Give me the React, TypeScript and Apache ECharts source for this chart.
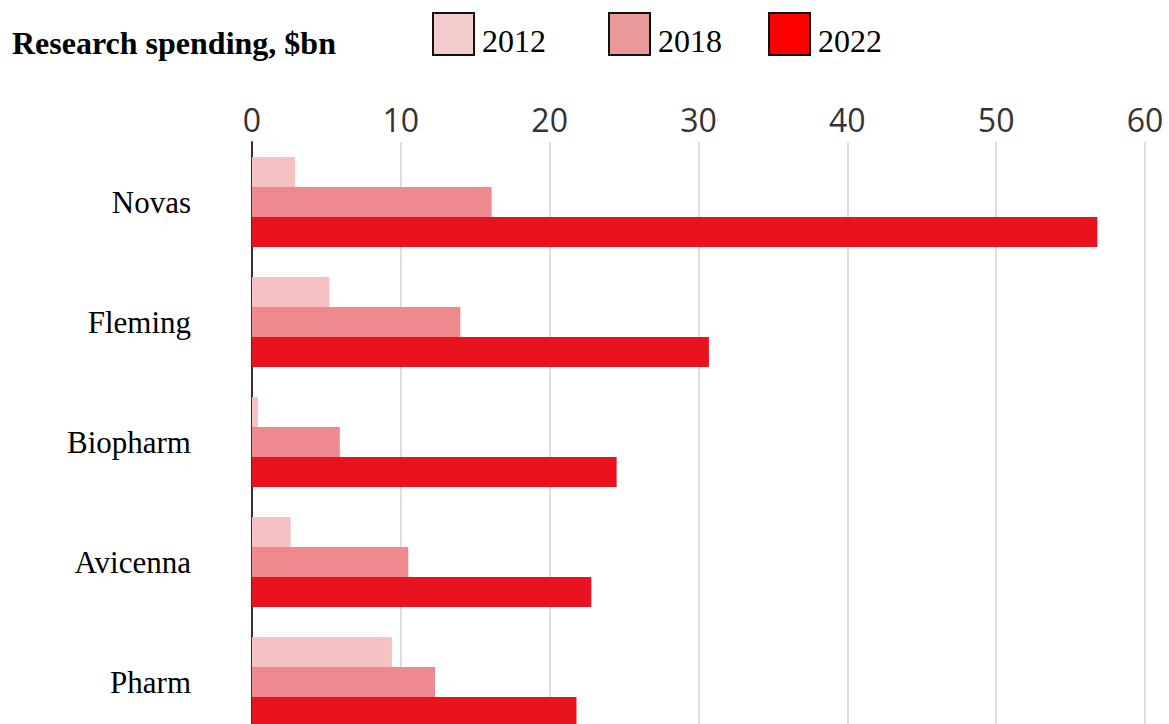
import React, { useEffect, useRef } from "react";
import * as echarts from "echarts";

const companies = ["Novas", "Fleming", "Biopharm", "Avicenna", "Pharm"];
const years = ["2012", "2018", "2022"];
const spend2012 = [2.9, 5.2, 0.4, 2.6, 9.4];
const spend2018 = [16.1, 14.0, 5.9, 10.5, 12.3];
const spend2022 = [56.8, 30.7, 24.5, 22.8, 21.8];
const xTicks = { min: 0, max: 60, interval: 10 };

const barColors = ["#f5c1c2", "#ee8a8d", "#e8131e"];
const legendColors = ["#f4cccc", "#ea9999", "#ff0000"];
const legendLeft = [432, 608, 768];

export default function App() {
  const ref = useRef<HTMLDivElement>(null);
  useEffect(() => {
    if (!ref.current) return;
    const chart = echarts.init(ref.current, undefined, { renderer: "svg" });
    const values = [spend2012, spend2018, spend2022];
    chart.setOption({
      animation: false,
      backgroundColor: "#ffffff",
      title: {
        text: "Research spending, $bn",
        left: 12,
        top: 27,
        padding: 0,
        textStyle: {
          fontFamily: "Liberation Serif",
          fontWeight: "bold",
          fontSize: 32,
          color: "#000",
        },
      },
      legend: years.map((y, i) => ({
        data: [
          {
            name: y,
            icon: "rect",
            itemStyle: { color: legendColors[i], borderColor: "#111", borderWidth: 2 },
          },
        ],
        left: legendLeft[i],
        top: 12,
        padding: 0,
        itemWidth: 41,
        itemHeight: 42,
        selectedMode: false,
        formatter: "{a|{name}}",
        textStyle: {
          fontFamily: "Liberation Serif",
          fontSize: 32,
          color: "#000",
          rich: {
            a: {
              fontFamily: "Liberation Serif",
              fontSize: 32,
              color: "#000",
              padding: [14, 0, 0, 3],
            },
          },
        },
      })),
      grid: { left: 252, right: 24, top: 142, bottom: 0, containLabel: false },
      xAxis: {
        type: "value",
        position: "top",
        min: xTicks.min,
        max: xTicks.max,
        interval: xTicks.interval,
        axisLine: { show: false },
        axisTick: { show: false },
        axisLabel: {
          fontFamily: "Open Sans",
          fontSize: 32,
          color: "#333",
          margin: 7,
        },
        splitLine: { show: true, lineStyle: { color: "#d3d3d3", width: 1.5 } },
      },
      yAxis: {
        type: "category",
        inverse: true,
        data: companies,
        axisLine: { show: true, lineStyle: { color: "#333", width: 2 } },
        axisTick: { show: false },
        axisLabel: {
          fontFamily: "Liberation Serif",
          fontSize: 31,
          color: "#000",
          margin: 61,
        },
      },
      series: years.map((y, i) => ({
        name: y,
        type: "bar",
        data: values[i],
        barWidth: 30,
        barGap: "0%",
        itemStyle: { color: barColors[i] },
      })),
    });
    return () => chart.dispose();
  }, []);
  return (
    <div
      style={{
        position: "fixed",
        left: 0,
        top: 0,
        width: 1169,
        height: 724,
        overflow: "hidden",
        background: "#fff",
      }}
    >
      <div ref={ref} style={{ width: 1169, height: 742 }} />
    </div>
  );
}
